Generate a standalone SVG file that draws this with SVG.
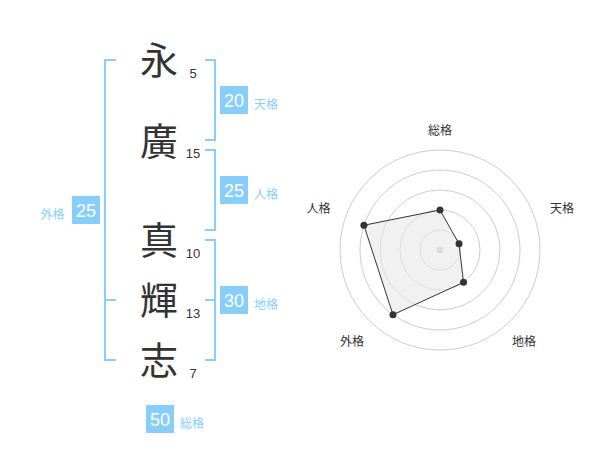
<svg xmlns="http://www.w3.org/2000/svg" width="600" height="470" viewBox="0 0 600 470">
<style>
.k{font-family:"Noto Sans CJK JP","Noto Sans CJK SC",sans-serif;font-size:38px;fill:#333;text-anchor:middle}
.n{font-family:"Liberation Sans",Arial,sans-serif;font-size:13px;fill:#333;text-anchor:middle}
.br{fill:none;stroke:#87cefa;stroke-width:2}
.bx{fill:#87cefa}
.bv{font-family:"Liberation Sans",Arial,sans-serif;font-size:18px;fill:#fff;text-anchor:middle}
.bl{font-family:"Noto Sans CJK JP","Noto Sans CJK SC",sans-serif;font-size:12px;fill:#87cefa}
.rl{font-family:"Noto Sans CJK JP","Noto Sans CJK SC",sans-serif;font-size:12px;fill:#333;text-anchor:middle}
.ring{fill:none;stroke:#ccc;stroke-width:1}
</style>
<rect width="600" height="470" fill="#fff"/>
<g id="chars">
<text class="k" x="159" y="74">永</text>
<text class="k" x="159" y="155">廣</text>
<text class="k" x="159" y="254">真</text>
<text class="k" x="159" y="314">輝</text>
<text class="k" x="159" y="374">志</text>
</g>
<g id="strokes">
<text class="n" x="193" y="77.5">5</text>
<text class="n" x="193" y="158">15</text>
<text class="n" x="193" y="257.5">10</text>
<text class="n" x="193" y="317.5">13</text>
<text class="n" x="193" y="377.5">7</text>
</g>
<g id="connectors">
<path class="br" d="M116,60 H105 V360 H116 M105,300 H116"/>
<path class="br" d="M205,60 H215 V140 H205"/>
<path class="br" d="M205,150 H215 V230 H205"/>
<path class="br" d="M205,240 H215 V360 H205 M215,300 H205"/>
</g>
<g id="tenkaku">
<rect class="bx" x="220" y="86" width="28" height="28"/>
<text class="bv" x="234" y="106.5">20</text>
<text class="bl" x="254" y="108.5">天格</text>
</g>
<g id="jinkaku">
<rect class="bx" x="220" y="176" width="28" height="28"/>
<text class="bv" x="234" y="196.5">25</text>
<text class="bl" x="254" y="198.5">人格</text>
</g>
<g id="chikaku">
<rect class="bx" x="220" y="286" width="28" height="28"/>
<text class="bv" x="234" y="306.5">30</text>
<text class="bl" x="254" y="308.5">地格</text>
</g>
<g id="gaikaku">
<rect class="bx" x="72" y="196" width="28" height="28"/>
<text class="bv" x="86" y="216.5">25</text>
<text class="bl" x="40.5" y="218.5">外格</text>
</g>
<g id="soukaku">
<rect class="bx" x="146" y="405" width="28" height="28"/>
<text class="bv" x="160" y="425.5">50</text>
<text class="bl" x="180" y="427.5">総格</text>
</g>
<g id="radar">
<circle class="ring" cx="440" cy="250" r="20"/>
<circle class="ring" cx="440" cy="250" r="40"/>
<circle class="ring" cx="440" cy="250" r="60"/>
<circle class="ring" cx="440" cy="250" r="80"/>
<circle class="ring" cx="440" cy="250" r="100"/>
<circle cx="440" cy="250" r="3.5" fill="#ccc"/>
<polygon points="440,210 459.02,243.82 463.51,282.36 392.98,314.72 363.91,225.28" fill="#e8e8e8" fill-opacity="0.6" stroke="#333" stroke-width="1"/>
<g fill="#333">
<circle cx="440" cy="210" r="3.5"/>
<circle cx="459.02" cy="243.82" r="3.5"/>
<circle cx="463.51" cy="282.36" r="3.5"/>
<circle cx="392.98" cy="314.72" r="3.5"/>
<circle cx="363.91" cy="225.28" r="3.5"/>
</g>
<text class="rl" x="440" y="135">総格</text>
<text class="rl" x="562" y="212.5">天格</text>
<text class="rl" x="524" y="346">地格</text>
<text class="rl" x="352" y="346">外格</text>
<text class="rl" x="318.5" y="212.5">人格</text>
</g>
</svg>
